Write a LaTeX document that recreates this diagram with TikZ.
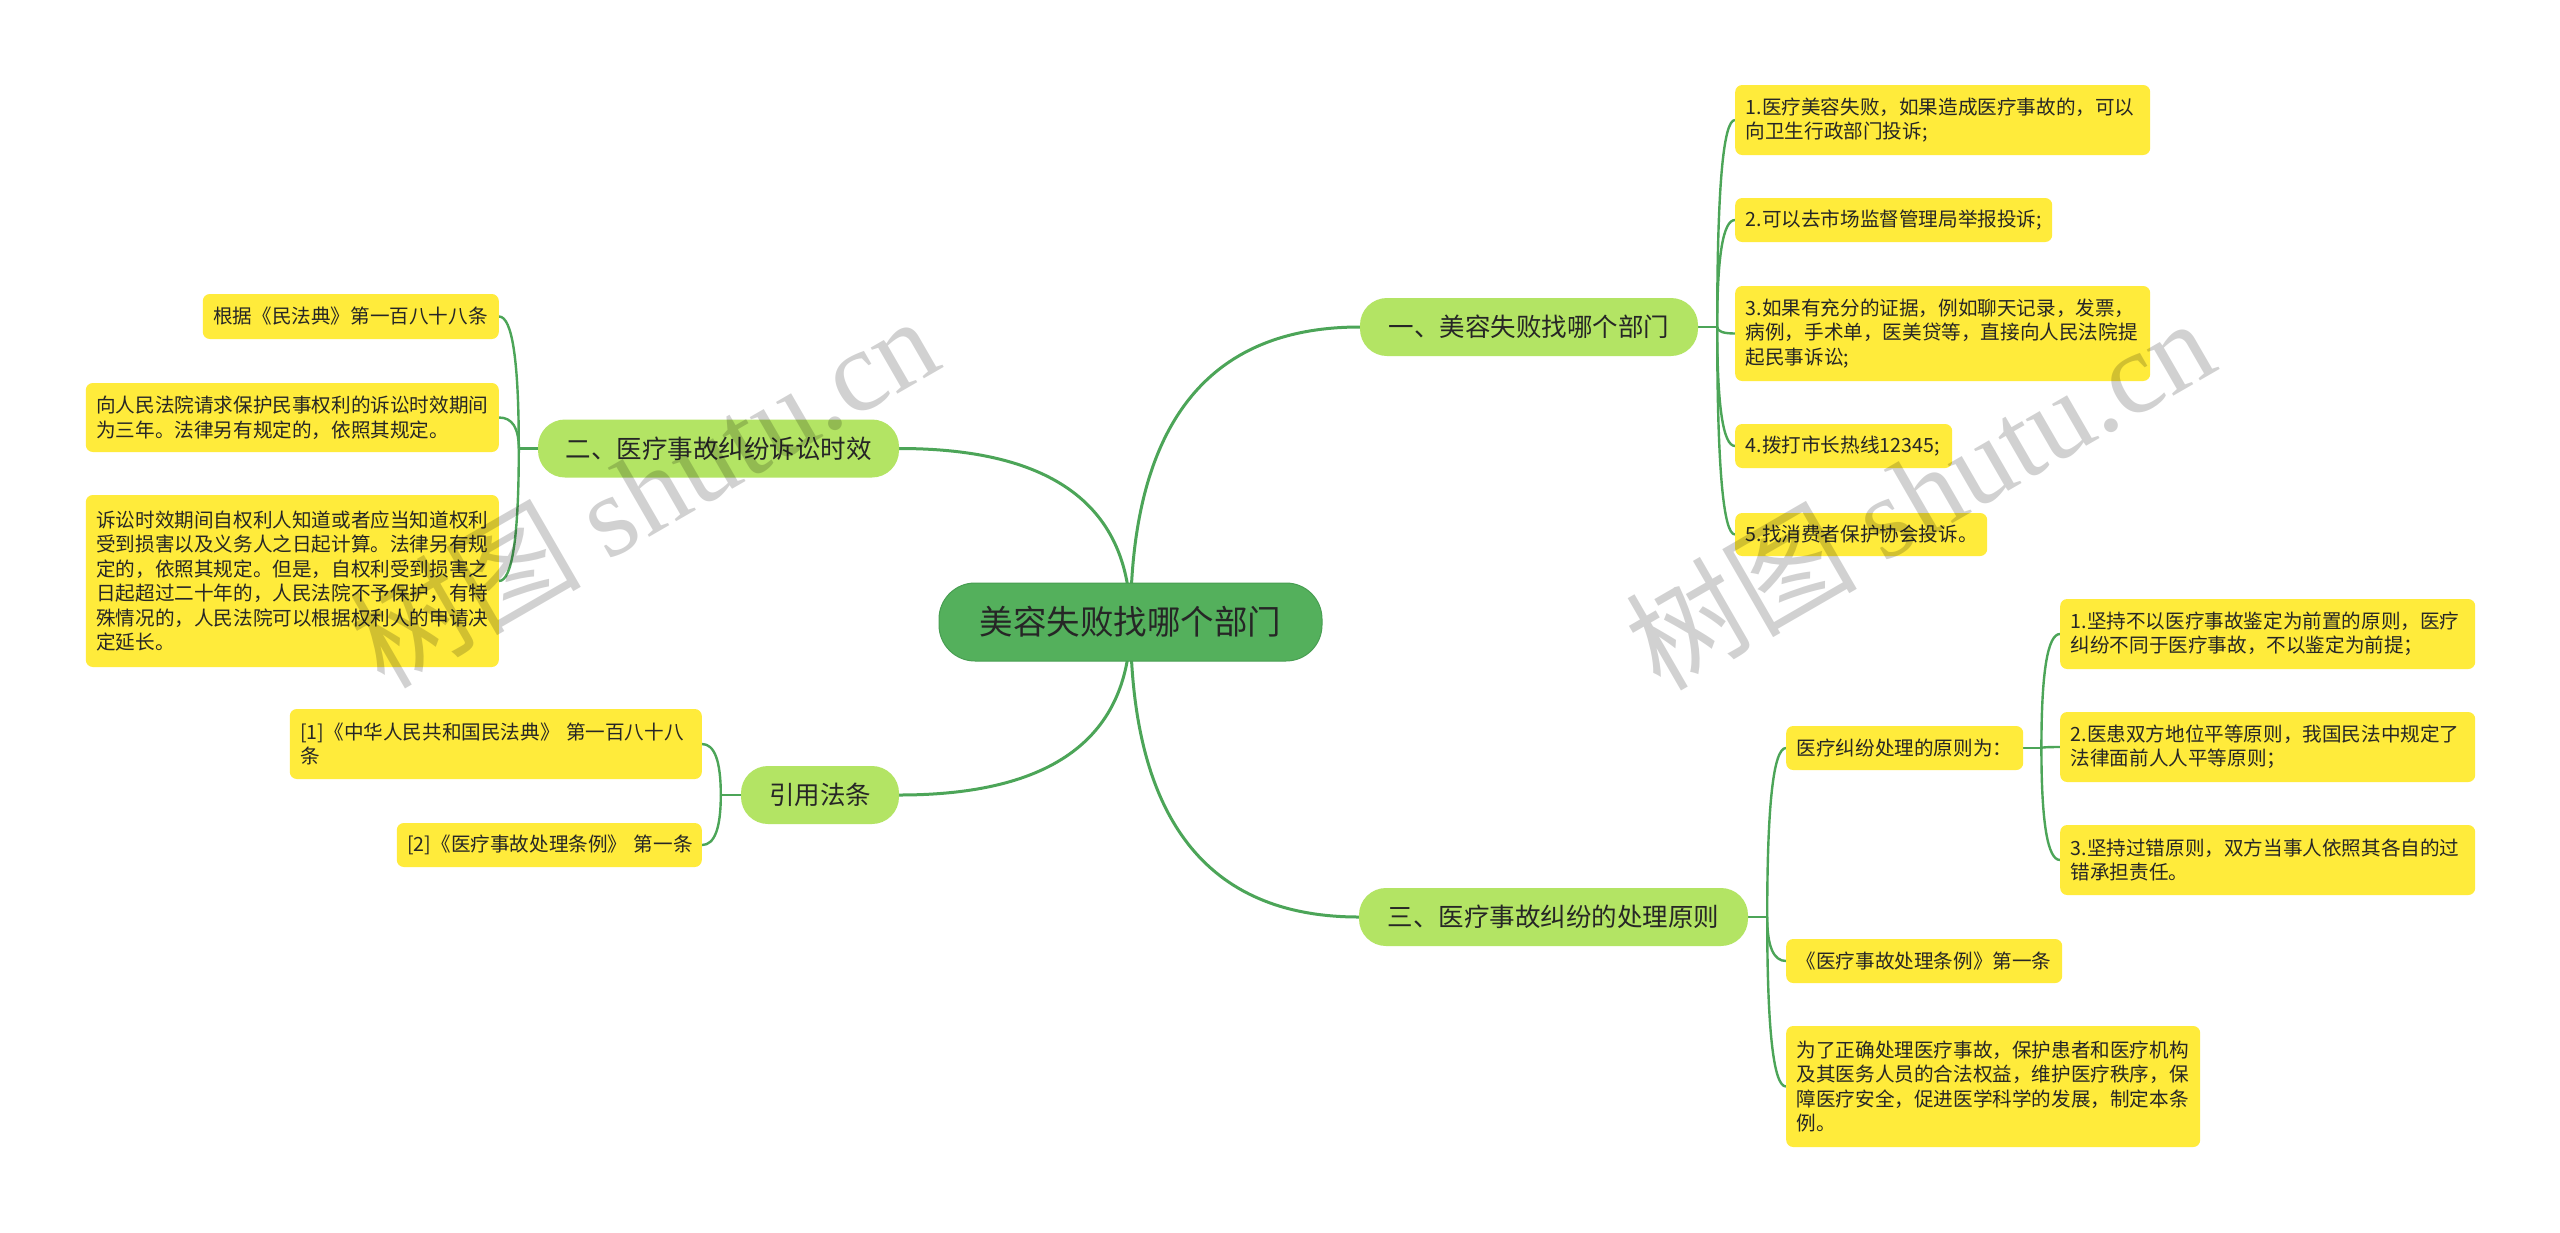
\documentclass[tikz,border=0pt]{standalone}
\usepackage{fontspec}
\setmainfont{Noto Sans CJK SC}
\newfontfamily\wmcjk{Noto Sans CJK SC}
\newfontfamily\wmlatin{Liberation Serif}
\usetikzlibrary{calc}
\definecolor{rootgreen}{RGB}{84,176,92}
\definecolor{rootborder}{RGB}{72,158,82}
\definecolor{branchgreen}{RGB}{179,228,100}
\definecolor{leafyellow}{RGB}{255,235,59}
\definecolor{linegreen}{RGB}{76,165,88}
\definecolor{txt}{RGB}{38,38,38}
\pgfdeclarelayer{bg}
\pgfdeclarelayer{fg}
\pgfsetlayers{bg,main,fg}
\begin{document}
\begin{tikzpicture}[x=1pt,y=-1pt,
  rootbox/.style={fill=rootgreen, draw=rootborder, line width=1pt, rounded corners=36pt, minimum width=383pt, minimum height=78pt, font=\fontsize{33.5pt}{40pt}\selectfont, text=txt, inner sep=0pt},
  branchbox/.style={fill=branchgreen, rounded corners=27pt, minimum height=58pt, font=\fontsize{25.5pt}{30pt}\selectfont, text=txt, inner sep=0pt},
  leafbox/.style={fill=leafyellow, rounded corners=7pt, align=left, inner xsep=10.5pt, inner ysep=3pt, font=\fontsize{19.6pt}{24.5pt}\selectfont, text=txt},
  conn/.style={draw=linegreen, line width=3pt},
  subconn/.style={draw=linegreen, line width=2.4pt},
  quad/.style={to path={.. controls ($(\tikztostart)!0.6667!(\tikztostart|-\tikztotarget)$) and ($(\tikztotarget)!0.6667!(\tikztostart|-\tikztotarget)$) .. (\tikztotarget)}},
  wm/.style={text=black, text opacity=0.18, rotate=30, font=\fontsize{116pt}{116pt}\selectfont, inner sep=0pt}
]
\useasboundingbox (0,0) rectangle (2560,1232);

% root
\node[rootbox] (root) at (1130.5,622) {美容失败找哪个部门};

% branches
\node[branchbox, minimum width=338pt] (b1) at (1529,327) {一、美容失败找哪个部门};
\node[branchbox, minimum width=389pt] (b3) at (1553.5,917) {三、医疗事故纠纷的处理原则};
\node[branchbox, minimum width=361pt] (b2) at (718.5,448.5) {二、医疗事故纠纷诉讼时效};
\node[branchbox, minimum width=158pt] (b4) at (820,795) {引用法条};

% branch 1 leaves
\node[leafbox, text width=394pt, minimum height=70pt, anchor=west] (r1) at (1735,120) {1.医疗美容失败，如果造成医疗事故的，可以\\向卫生行政部门投诉;};
\node[leafbox, text width=296pt, minimum height=44pt, anchor=west] (r2) at (1735,220) {2.可以去市场监督管理局举报投诉;};
\node[leafbox, text width=394pt, minimum height=95pt, anchor=west] (r3) at (1735,333.5) {3.如果有充分的证据，例如聊天记录，发票，\\病例，手术单，医美贷等，直接向人民法院提\\起民事诉讼;};
\node[leafbox, text width=196pt, minimum height=44pt, anchor=west] (r4) at (1735,446) {4.拨打市长热线12345;};
\node[leafbox, text width=231pt, minimum height=43pt, anchor=west] (r5) at (1735,534.5) {5.找消费者保护协会投诉。};

% branch 3 leaves
\node[leafbox, text width=216pt, minimum height=44pt, anchor=west] (t1) at (1786,748) {医疗纠纷处理的原则为：};
\node[leafbox, text width=394pt, minimum height=70pt, anchor=west] (u1) at (2060,634) {1.坚持不以医疗事故鉴定为前置的原则，医疗\\纠纷不同于医疗事故，不以鉴定为前提；};
\node[leafbox, text width=394pt, minimum height=70pt, anchor=west] (u2) at (2060,747) {2.医患双方地位平等原则，我国民法中规定了\\法律面前人人平等原则；};
\node[leafbox, text width=394pt, minimum height=70pt, anchor=west] (u3) at (2060,860) {3.坚持过错原则，双方当事人依照其各自的过\\错承担责任。};
\node[leafbox, text width=255pt, minimum height=44pt, anchor=west] (t2) at (1786,961) {《医疗事故处理条例》第一条};
\node[leafbox, text width=393pt, minimum height=121pt, anchor=west] (t3) at (1786,1086.5) {为了正确处理医疗事故，保护患者和医疗机构\\及其医务人员的合法权益，维护医疗秩序，保\\障医疗安全，促进医学科学的发展，制定本条\\例。};

% branch 2 leaves
\node[leafbox, text width=275pt, minimum height=45pt, anchor=east] (l1) at (499,316.5) {根据《民法典》第一百八十八条};
\node[leafbox, text width=392pt, minimum height=69pt, anchor=east] (l2) at (499,417.5) {向人民法院请求保护民事权利的诉讼时效期间\\为三年。法律另有规定的，依照其规定。};
\node[leafbox, text width=392pt, minimum height=172pt, anchor=east] (l3) at (499,581) {诉讼时效期间自权利人知道或者应当知道权利\\受到损害以及义务人之日起计算。法律另有规\\定的，依照其规定。但是，自权利受到损害之\\日起超过二十年的，人民法院不予保护，有特\\殊情况的，人民法院可以根据权利人的申请决\\定延长。};

% branch 4 leaves
\node[leafbox, text width=391pt, minimum height=70pt, anchor=east] (c1) at (702,744) {[1]《中华人民共和国民法典》 第一百八十八\\条};
\node[leafbox, text width=284pt, minimum height=44pt, anchor=east] (c2) at (702,845) {[2]《医疗事故处理条例》\mbox{ }第一条};

% junction points
\coordinate (s1) at ($(b1.east)+(19,0)$);
\coordinate (s3) at ($(b3.east)+(19,0)$);
\coordinate (s3b) at ($(t1.east)+(18,0)$);
\coordinate (s2) at ($(b2.west)+(-19,0)$);
\coordinate (s4) at ($(b4.west)+(-20,0)$);

\begin{pgfonlayer}{bg}
  \fill[white] (0,0) rectangle (2560,1232);
  \draw[conn] (root.center) to[quad] (b1.west);
  \draw[conn] (root.center) to[quad] (b3.west);
  \draw[conn] (root.center) to[quad] (b2.east);
  \draw[conn] (root.center) to[quad] (b4.east);

  \draw[subconn] (b1.east) -- (s1);
  \foreach \n in {r1,r2,r3,r4,r5} \draw[subconn] (s1) to[quad] (\n.west);

  \draw[subconn] (b3.east) -- (s3);
  \foreach \n in {t1,t2,t3} \draw[subconn] (s3) to[quad] (\n.west);

  \draw[subconn] (t1.east) -- (s3b);
  \foreach \n in {u1,u2,u3} \draw[subconn] (s3b) to[quad] (\n.west);

  \draw[subconn] (b2.west) -- (s2);
  \foreach \n in {l1,l2,l3} \draw[subconn] (s2) to[quad] (\n.east);

  \draw[subconn] (b4.west) -- (s4);
  \foreach \n in {c1,c2} \draw[subconn] (s4) to[quad] (\n.east);
\end{pgfonlayer}

\begin{pgfonlayer}{fg}
  \node[wm] (wm1) at (643,490) {\wmcjk 树图 \wmlatin shutu.cn};
  \node[wm] (wm2) at (1919,492) {\wmcjk 树图 \wmlatin shutu.cn};
\end{pgfonlayer}
\end{tikzpicture}
\end{document}
